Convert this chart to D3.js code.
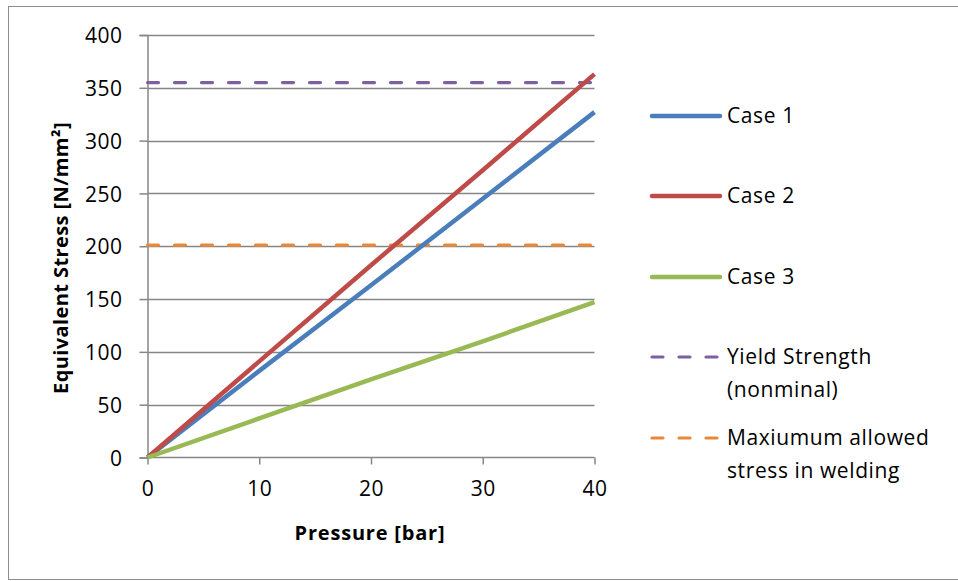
<!DOCTYPE html>
<html><head><meta charset="utf-8">
<script src="https://cdn.jsdelivr.net/npm/d3@7/dist/d3.min.js"></script>
<style>body{margin:0;background:#fff}svg{display:block}text{font-family:"Open Sans",Carlito,Calibri,sans-serif;fill:#000}</style>
</head><body><svg id="c" width="958" height="581"></svg>
<script>
const pressure = [0, 10, 20, 30, 40];
const case1 = [0, 82, 163, 245, 327];
const case2 = [0, 91, 182, 272, 363];
const case3 = [0, 37, 74, 110, 147];
const yieldStrength = 355;
const maxWelding = 201;
const xTicks = [0, 10, 20, 30, 40];
const yTicks = [0, 50, 100, 150, 200, 250, 300, 350, 400];
const seriesNames = ["Case 1", "Case 2", "Case 3", ["Yield Strength", "(nonminal)"], ["Maxiumum allowed", "stress in welding"]];
const colors = ["#4A7EBB", "#BE4B48", "#98B954", "#7D60A0", "#E8883A"];

const svg = d3.select("#c");
svg.append("rect").attr("x", 8.5).attr("y", 6.5).attr("width", 980).attr("height", 573)
  .attr("fill", "none").attr("stroke", "#8c8c8c").attr("stroke-width", 1);

const x = d3.scaleLinear().domain([0, 40]).range([147.5, 594.5]);
const y = d3.scaleLinear().domain([0, 400]).range([457.5, 35]);

// gridlines
svg.append("g").selectAll("line").data(yTicks.filter(d => d > 0)).join("line")
  .attr("x1", x(0)).attr("x2", x(40)).attr("y1", d => Math.round(y(d)) + 0.5).attr("y2", d => Math.round(y(d)) + 0.5)
  .attr("stroke", "#868686").attr("stroke-width", 1.5);

// axes
const yAxis = d3.axisLeft(y).tickValues(yTicks).tickSize(8).tickPadding(17);
const gy = svg.append("g").attr("transform", `translate(${x(0)},0)`).call(yAxis);
const xAxis = d3.axisBottom(x).tickValues(xTicks).tickSize(7).tickPadding(17);
const gx = svg.append("g").attr("transform", `translate(0,${y(0)})`).call(xAxis);
[gx, gy].forEach(g => {
  g.select(".domain").attr("stroke", "#868686").attr("stroke-width", 1.5);
  g.selectAll(".tick line").attr("stroke", "#868686").attr("stroke-width", 1.5);
  g.selectAll(".tick text").style("font-size", "21px").style("letter-spacing", "0.5px").attr("fill", "#000");
});
gy.selectAll(".tick text").attr("dy", "0.36em");
gx.select(".domain").attr("d", `M${x(0)},0H${x(40)}`);

// axis titles
svg.append("text").attr("x", 370).attr("y", 540).attr("text-anchor", "middle")
  .style("font-size", "20px").style("font-weight", "bold").style("letter-spacing", "0.8px").text("Pressure [bar]");
svg.append("text").attr("transform", "translate(68,258) rotate(-90)").attr("text-anchor", "middle")
  .style("font-size", "20px").style("font-weight", "bold").style("letter-spacing", "0.4px").text("Equivalent Stress [N/mm²]");

const line = d3.line().x((d, i) => x(pressure[i])).y(d => y(d));
// reference lines
[[yieldStrength, colors[3]], [maxWelding, colors[4]]].forEach(([v, c]) => {
  svg.append("path").attr("d", line([v, v, v, v, v])).attr("fill", "none")
    .attr("stroke", c).attr("stroke-width", 3.2).attr("stroke-dasharray", "11,16")
    .attr("stroke-linecap", "round");
});
// series
[case1, case2, case3].forEach((s, i) => {
  svg.append("path").attr("d", line(s)).attr("fill", "none")
    .attr("stroke", colors[i]).attr("stroke-width", 4.5).attr("stroke-linecap", "butt");
});

// legend
const legY = [116, 196, 277, 357, 438];
seriesNames.forEach((n, i) => {
  const g = svg.append("g").attr("transform", `translate(0,${legY[i]})`);
  if (i < 3) {
    g.append("line").attr("x1", 652).attr("x2", 720).attr("stroke", colors[i]).attr("stroke-width", 4.5).attr("stroke-linecap", "round");
  } else {
    g.append("line").attr("x1", 652).attr("x2", 720).attr("stroke", colors[i]).attr("stroke-width", 3.2)
      .attr("stroke-dasharray", "11,16").attr("stroke-linecap", "round");
  }
  const lines = Array.isArray(n) ? n : [n];
  lines.forEach((t, j) => {
    g.append("text").attr("x", 727).attr("y", j * 33).attr("dy", "0.35em")
      .style("font-size", "21px").style("letter-spacing", "0.6px").text(t);
  });
});
</script></body></html>
